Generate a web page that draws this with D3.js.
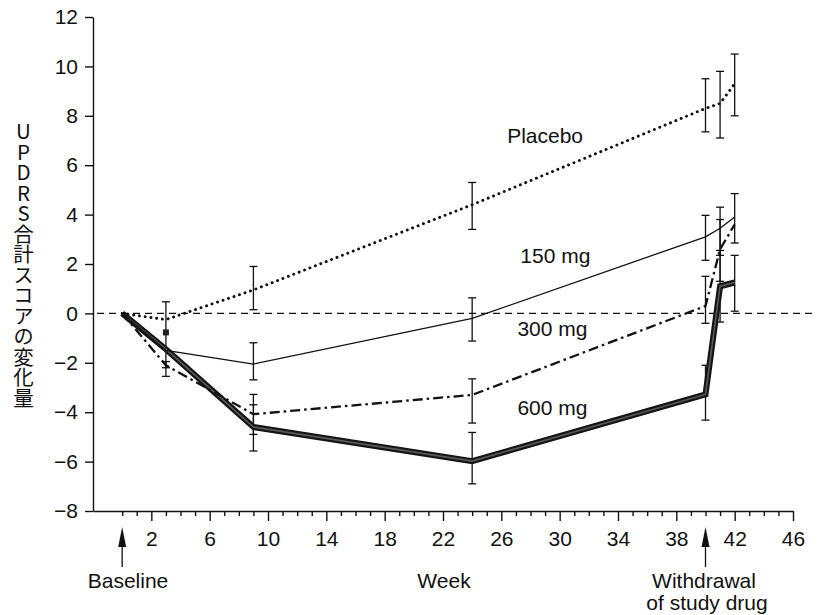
<!DOCTYPE html>
<html>
<head>
<meta charset="utf-8">
<script src="https://cdn.jsdelivr.net/npm/d3@7"></script>
<style>
  html, body { margin: 0; padding: 0; background: #fff; }
  #wrap { position: relative; width: 821px; height: 615px; overflow: hidden; }
  svg { position: absolute; left: 0; top: 0; }
  .ytitle { position: absolute; writing-mode: vertical-rl; text-orientation: upright;
            font-family: "Noto Sans CJK JP", "Liberation Sans", sans-serif; font-size: 20.5px;
            line-height: 1; color: #111; letter-spacing: 0px; }
</style>
</head>
<body>
<div id="wrap"></div>
<script>
// ---- data ----
const weeks = [0, 3, 9, 24, 40, 41, 42];
const placebo   = [0, -0.25, 0.95, 4.4, 8.3, 8.5, 9.3];
const placeboHi = [null, null, 1.9, 5.3, 9.5, 9.8, 10.5];
const placeboLo = [null, null, 0.15, 3.4, 7.35, 7.1, 8.0];
const mg150   = [0, -1.5, -2.05, -0.2, 3.1, 3.45, 3.9];
const mg150Hi = [null, 0.47, -1.19, 0.63, 3.97, 4.3, 4.85];
const mg150Lo = [null, -2.55, -2.69, -1.12, 2.15, 2.35, 2.85];
const mg300   = [0, -2.1, -4.08, -3.3, 0.3, 2.6, 3.6];
const mg300Hi = [null, -1.95, -3.28, -2.65, 1.5, 3.8, null];
const mg300Lo = [null, -2.2, -4.9, -4.44, -0.4, 1.3, null];
const mg600   = [0, -1.45, -4.6, -5.98, -3.28, 1.1, 1.25];
const mg600Hi = [null, null, -3.7, -4.82, -2.1, 2.55, 2.35];
const mg600Lo = [null, null, -5.57, -6.9, -4.32, -0.35, 0.09];
const squareMarker = {week: 3, value: -0.77};
const yTicks = [-8, -6, -4, -2, 0, 2, 4, 6, 8, 10, 12];
const xMajorTicks = [2, 6, 10, 14, 18, 22, 26, 30, 34, 38, 42, 46];
const xMinorTicks = d3.range(0, 46).filter(w => !xMajorTicks.includes(w));
const seriesLabels = [
  {text: "Placebo", week: 26.4, value: 6.9},
  {text: "150 mg", week: 27.3, value: 2.05},
  {text: "300 mg", week: 27.1, value: -0.92},
  {text: "600 mg", week: 27.1, value: -4.12}
];
const yTitle = "UPDRS合計スコアの変化量";
const baselineWeek = 0, withdrawalWeek = 40;

// ---- layout ----
const W = 821, H = 615;
const x = d3.scaleLinear().domain([-2, 46]).range([93, 793]);
const y = d3.scaleLinear().domain([-8, 12]).range([511, 17]);
const FONT = '"Liberation Sans", Arial, Helvetica, sans-serif';

const wrap = d3.select("#wrap");
const svg = wrap.append("svg").attr("width", W).attr("height", H);

// y axis
svg.append("g").attr("transform", `translate(${x(-2)},0)`)
  .call(d3.axisLeft(y).tickValues(yTicks).tickSize(8).tickSizeOuter(0).tickPadding(7));
// x axis major
svg.append("g").attr("transform", `translate(0,${y(-8)})`)
  .call(d3.axisBottom(x).tickValues(xMajorTicks).tickSize(10).tickSizeOuter(0).tickPadding(10));
// x axis minor
svg.append("g").attr("transform", `translate(0,${y(-8)})`)
  .call(d3.axisBottom(x).tickValues(xMinorTicks).tickSize(5).tickSizeOuter(0).tickFormat(""))
  .select(".domain").remove();
svg.selectAll(".tick text").attr("font-family", FONT).attr("font-size", 21).attr("fill", "#111");
svg.selectAll(".domain, .tick line").attr("stroke", "#111").attr("stroke-width", 1.4);

// zero reference line
svg.append("line")
  .attr("x1", x(-2) + 4).attr("x2", 815)
  .attr("y1", y(0)).attr("y2", y(0))
  .attr("stroke", "#111").attr("stroke-width", 1.2).attr("stroke-dasharray", "7 5");

const line = d3.line().x(d => x(d[0])).y(d => y(d[1]));
const pts = vals => weeks.map((w, i) => [w, vals[i]]);

// error bars
function errBars(hi, lo, sw) {
  const g = svg.append("g").attr("stroke", "#111").attr("stroke-width", sw || 1.3).attr("fill", "none");
  weeks.forEach((w, i) => {
    if (hi[i] == null || lo[i] == null) return;
    const cx = x(w);
    g.append("line").attr("x1", cx).attr("x2", cx).attr("y1", y(hi[i])).attr("y2", y(lo[i]));
    g.append("line").attr("x1", cx - 4).attr("x2", cx + 4).attr("y1", y(hi[i])).attr("y2", y(hi[i]));
    g.append("line").attr("x1", cx - 4).attr("x2", cx + 4).attr("y1", y(lo[i])).attr("y2", y(lo[i]));
  });
}
errBars(placeboHi, placeboLo);
errBars(mg150Hi, mg150Lo);
errBars(mg300Hi, mg300Lo);
errBars(mg600Hi, mg600Lo);

// 600 mg: thick line
svg.append("path").datum(pts(mg600)).attr("d", line)
  .attr("fill", "none").attr("stroke", "#151515").attr("stroke-width", 6).attr("stroke-linejoin", "miter");
svg.append("path").datum(pts(mg600)).attr("d", line)
  .attr("fill", "none").attr("stroke", "#5a5a5a").attr("stroke-width", 1.6).attr("stroke-linejoin", "miter");
// 300 mg: dash-dot
svg.append("path").datum(pts(mg300)).attr("d", line)
  .attr("fill", "none").attr("stroke", "#111").attr("stroke-width", 2.3).attr("stroke-dasharray", "10 4 2.5 4");
// 150 mg: thin solid
svg.append("path").datum(pts(mg150)).attr("d", line)
  .attr("fill", "none").attr("stroke", "#111").attr("stroke-width", 1.3);
// placebo: dotted
svg.append("path").datum(pts(placebo)).attr("d", line)
  .attr("fill", "none").attr("stroke", "#111").attr("stroke-width", 2.9)
  .attr("stroke-linecap", "round").attr("stroke-dasharray", "0.1 5.7");

// small square marker at week 3
svg.append("rect")
  .attr("x", x(squareMarker.week) - 3).attr("y", y(squareMarker.value) - 3)
  .attr("width", 6).attr("height", 6).attr("fill", "#222");

// series labels
svg.append("g").selectAll("text").data(seriesLabels).join("text")
  .attr("x", d => x(d.week)).attr("y", d => y(d.value))
  .attr("font-family", FONT).attr("font-size", 21).attr("fill", "#111")
  .text(d => d.text);

// arrows
function arrow(w) {
  const cx = x(w);
  svg.append("path")
    .attr("d", `M${cx},527 L${cx - 4},547 L${cx + 4},547 Z`).attr("fill", "#111");
  svg.append("line").attr("x1", cx).attr("x2", cx).attr("y1", 545).attr("y2", 567)
    .attr("stroke", "#111").attr("stroke-width", 1.3);
}
arrow(baselineWeek);
arrow(withdrawalWeek);

const bottomText = [
  {t: "Baseline", xv: 128, yv: 588},
  {t: "Week", xv: 444, yv: 588},
  {t: "Withdrawal", xv: 704, yv: 588},
  {t: "of study drug", xv: 707, yv: 610}
];
svg.append("g").selectAll("text").data(bottomText).join("text")
  .attr("x", d => d.xv).attr("y", d => d.yv).attr("text-anchor", "middle")
  .attr("font-family", FONT).attr("font-size", 21).attr("fill", "#111")
  .text(d => d.t);

// vertical y-axis title (upright, vertical writing)
wrap.append("div").attr("class", "ytitle")
  .style("left", "13px").style("top", "121px")
  .text(yTitle);
</script>
</body>
</html>
